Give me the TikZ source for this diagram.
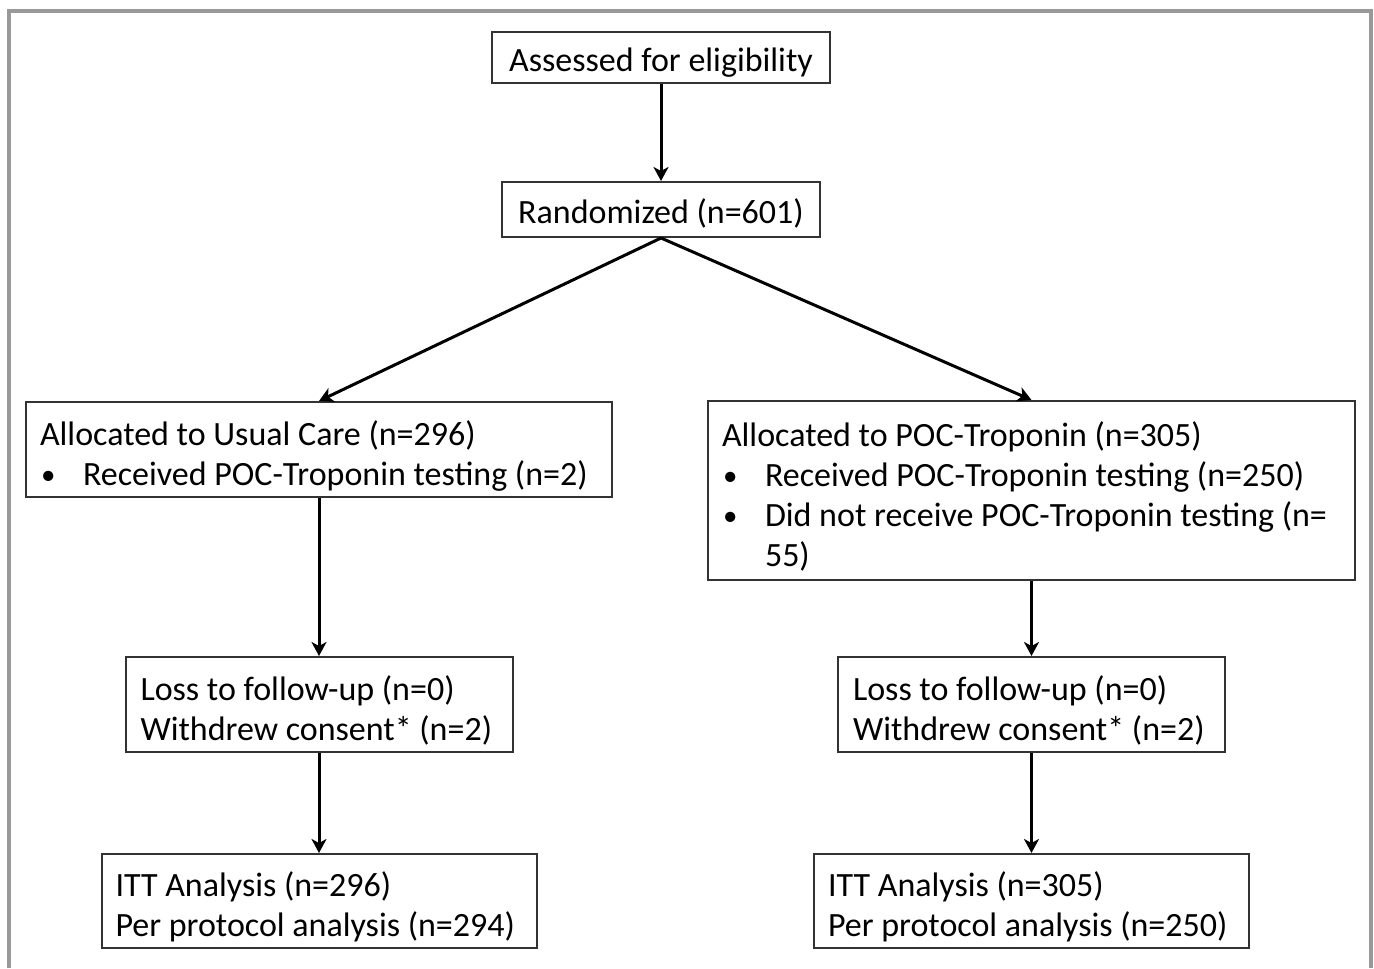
\documentclass[tikz,border=0pt]{standalone}
\usepackage{fontspec}
\setmainfont{Carlito}
\usetikzlibrary{arrows.meta,positioning}

\newcommand{\itembul}{\makebox[21.5pt][l]{\hspace{0.5pt}\raisebox{0.5pt}{\scalebox{0.85}{\textbullet}}}}

\begin{document}
\begin{tikzpicture}[
      mybox/.style={
         rectangle,
         draw=black!80,
         line width=1pt,
         inner xsep=7pt,
         inner ysep=1pt,
         execute at begin node={\rule{0pt}{16.5pt}},
         font=\fontsize{17}{20}\selectfont},
      textbox/.style 2 args={
         mybox,
         align=flush left,
         text width=#1,
         minimum height=#2,
         execute at begin node={\rule{0pt}{18.5pt}}},
      myarrow/.style={-{Stealth[length=7pt,width=7.5pt,inset=2pt]},line width=1.5pt},
      node distance=48.5pt
      ]
      \useasboundingbox (0,0) rectangle (687pt,-484pt);
      \draw[line width=2pt,black!40] (4.5pt,-484pt) -- (4.5pt,-5.5pt) -- (685.5pt,-5.5pt) -- (685.5pt,-484pt);

      \node[mybox,minimum width=169pt,minimum height=25.5pt] (assess) at (330.5pt,-28.75pt) {Assessed for eligibility};
      \node[mybox,minimum width=159pt,minimum height=27.5pt,below=of assess] (random) {Randomized (n=601)};
      \node[textbox={279pt}{47.5pt},below=81.5pt of random.south,xshift=-171pt] (usual)
         {Allocated to Usual Care (n=296)\\ \mbox{\itembul Received POC-Troponin testing (n=2)}};
      \node[textbox={309.5pt}{89.5pt},below=81pt of random.south,xshift=185.25pt] (poc)
         {Allocated to POC-Troponin (n=305)\\ \mbox{\itembul Received POC-Troponin testing (n=250)}\\
          \mbox{\itembul Did not receive POC-Troponin testing (n=}\\ \hspace*{21.5pt}55)};
      \node[textbox={178.5pt}{47.5pt},inner xsep=7.5pt,below=79pt of usual] (lossu)
         {Loss to follow-up (n=0)\\ \mbox{Withdrew consent* (n=2)}};
      \node[textbox={178.5pt}{47.5pt},inner xsep=7.5pt,below=37.5pt of poc] (lossp)
         {Loss to follow-up (n=0)\\ \mbox{Withdrew consent* (n=2)}};
      \node[textbox={203.5pt}{47pt},below=50pt of lossu] (ittu)
         {ITT Analysis (n=296)\\ \mbox{Per protocol analysis (n=294)}};
      \node[textbox={203.5pt}{47pt},below=50pt of lossp] (ittp)
         {ITT Analysis (n=305)\\ \mbox{Per protocol analysis (n=250)}};

      \foreach \i/\j in {assess/random, usual/lossu, poc/lossp, lossu/ittu, lossp/ittp}
         \draw[myarrow] (\i) -- (\j);
      \draw[myarrow] (random.south) -- (usual.north);
      \draw[myarrow] (random.south) -- (poc.north);
\end{tikzpicture}
\end{document}
